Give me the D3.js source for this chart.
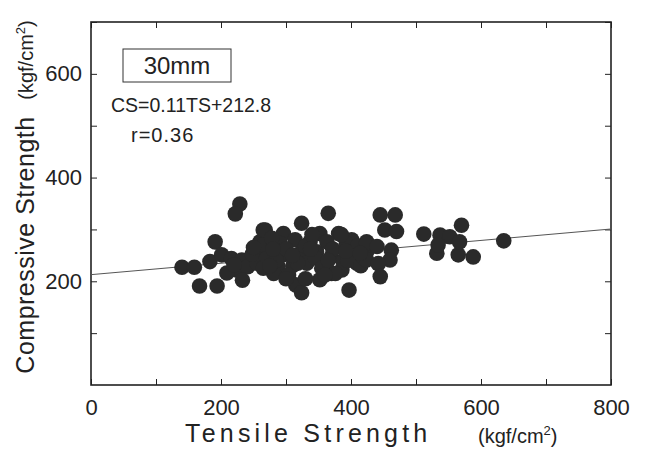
<!DOCTYPE html>
<html lang="en">
  <head>
    <meta charset="UTF-8" />
    <script src="https://cdnjs.cloudflare.com/ajax/libs/d3/7.8.5/d3.min.js"></script>
    <title>Compressive vs Tensile Strength</title>
    <style>
      body {
        margin: 0;
        background: #fff;
      }
      text {
        font-family: "Liberation Sans", Arial, sans-serif;
        fill: #222;
      }
      .tick line {
        stroke: #222;
      }
      .tick text {
        font-size: 22px;
      }
    </style>
  </head>
  <body>
    <script>
      // tensile strength (kgf/cm2) and compressive strength (kgf/cm2), paired by index
      const tensile = [
        140, 159, 167, 194, 191, 229, 222,
        183, 201, 216, 232, 224, 241, 255, 265, 233, 209, 260, 265, 248, 220,
        268, 296, 324, 352, 381, 401, 424,
        265, 291, 314, 337, 363, 393, 414,
        270, 296, 322, 347, 370, 401, 424,
        265, 288, 311, 332, 357, 388, 409,
        281, 304, 352, 370, 386,
        365, 315, 324, 397,
        278, 300, 330, 345, 372, 395, 410, 285, 318, 355, 376, 300, 340, 385, 415,
        280, 310, 338, 365, 392, 420, 250, 275, 330, 360,
        445, 468, 452, 470, 424, 440, 462, 424, 460, 442, 445, 414,
        512, 537, 552, 570, 532, 565, 588, 534, 567, 635
      ];
      const compressive = [
        227, 227, 191, 191, 276, 349, 330,
        238, 251, 244, 241, 222, 228, 235, 247, 202, 216, 276, 299, 252, 232,
        299, 292, 312, 292, 292, 280, 276,
        270, 273, 280, 276, 276, 273, 267,
        244, 251, 254, 257, 248, 251, 257,
        225, 228, 231, 235, 231, 238, 235,
        215, 212, 203, 215, 222,
        331, 193, 178, 183,
        283, 262, 268, 245, 262, 240, 268, 240, 235, 225, 215, 205, 290, 290, 230,
        262, 250, 262, 240, 258, 245, 265, 230, 205, 212,
        328, 328, 299, 296, 273, 267, 260, 241, 241, 234, 209, 254,
        291, 289, 286, 308, 254, 251, 247, 270, 276, 278
      ];
      const xTicks = [0, 100, 200, 300, 400, 500, 600, 700, 800];
      const yTicks = [100, 200, 300, 400, 500, 600, 700];
      const slope = 0.11;
      const intercept = 212.8;

      const width = 647,
        height = 449;
      const plot = { left: 91, right: 611, top: 22, bottom: 385 };

      const svg = d3
        .select("body")
        .append("svg")
        .attr("width", width)
        .attr("height", height);

      const x = d3.scaleLinear().domain([0, 800]).range([plot.left, plot.right]);
      const y = d3.scaleLinear().domain([0, 700]).range([plot.bottom, plot.top]);

      // axes, ticks pointing inward
      svg
        .append("g")
        .attr("transform", `translate(0,${plot.bottom})`)
        .call(
          d3
            .axisBottom(x)
            .tickValues(xTicks)
            .tickSize(-6)
            .tickSizeOuter(0)
            .tickPadding(14)
            .tickFormat((d) => (d % 200 === 0 ? d : ""))
        )
        .call((g) => g.select(".domain").remove());

      svg
        .append("g")
        .attr("transform", `translate(0,${plot.top})`)
        .call(d3.axisTop(x).tickValues(xTicks).tickSize(-6).tickFormat(""))
        .call((g) => g.select(".domain").remove());

      svg
        .append("g")
        .attr("transform", `translate(${plot.left},0)`)
        .call(
          d3
            .axisLeft(y)
            .tickValues(yTicks)
            .tickSize(-6)
            .tickPadding(9)
            .tickFormat((d) => (d % 200 === 0 && d < 700 ? d : ""))
        )
        .call((g) => g.select(".domain").remove());

      svg
        .append("g")
        .attr("transform", `translate(${plot.right},0)`)
        .call(d3.axisRight(y).tickValues(yTicks).tickSize(-6).tickFormat(""))
        .call((g) => g.select(".domain").remove());

      svg
        .append("rect")
        .attr("x", plot.left)
        .attr("y", plot.top)
        .attr("width", plot.right - plot.left)
        .attr("height", plot.bottom - plot.top)
        .attr("fill", "none")
        .attr("stroke", "#222")
        .attr("stroke-width", 1.6);

      // regression line
      svg
        .append("line")
        .attr("x1", x(0))
        .attr("y1", y(intercept))
        .attr("x2", x(800))
        .attr("y2", y(intercept + slope * 800))
        .attr("stroke", "#555")
        .attr("stroke-width", 1);

      svg
        .append("g")
        .selectAll("circle")
        .data(tensile)
        .enter()
        .append("circle")
        .attr("cx", (d) => x(d))
        .attr("cy", (d, i) => y(compressive[i]))
        .attr("r", 7.8)
        .attr("fill", "#2a2a2a");

      // legend box and equation
      svg
        .append("rect")
        .attr("x", 123)
        .attr("y", 49)
        .attr("width", 108)
        .attr("height", 33)
        .attr("fill", "none")
        .attr("stroke", "#333")
        .attr("stroke-width", 1);

      svg
        .append("text")
        .attr("x", 177)
        .attr("y", 74)
        .attr("text-anchor", "middle")
        .style("font-size", "24px")
        .text("30mm");

      svg
        .append("text")
        .attr("x", 111)
        .attr("y", 112)
        .style("font-size", "19.5px")
        .text("CS=0.11TS+212.8");

      svg
        .append("text")
        .attr("x", 131)
        .attr("y", 142)
        .style("font-size", "20px")
        .style("letter-spacing", "1px")
        .text("r=0.36");

      // axis titles
      svg
        .append("text")
        .attr("x", 185)
        .attr("y", 442)
        .style("font-size", "25px")
        .style("letter-spacing", "4.2px")
        .text("Tensile  Strength");

      const xUnit = svg
        .append("text")
        .attr("x", 478)
        .attr("y", 443)
        .style("font-size", "20px");
      xUnit.append("tspan").text("(kgf/cm");
      xUnit.append("tspan").attr("dy", -8).style("font-size", "13px").text("2");
      xUnit.append("tspan").attr("dy", 8).text(")");

      svg
        .append("text")
        .attr("transform", "translate(34,245) rotate(-90)")
        .attr("text-anchor", "middle")
        .style("font-size", "25px")
        .style("letter-spacing", "0.5px")
        .text("Compressive Strength");

      const yUnit = svg
        .append("text")
        .attr("transform", "translate(33,60) rotate(-90)")
        .attr("text-anchor", "middle")
        .style("font-size", "20px");
      yUnit.append("tspan").text("(kgf/cm");
      yUnit.append("tspan").attr("dy", -8).style("font-size", "13px").text("2");
      yUnit.append("tspan").attr("dy", 8).text(")");
    </script>
  </body>
</html>
